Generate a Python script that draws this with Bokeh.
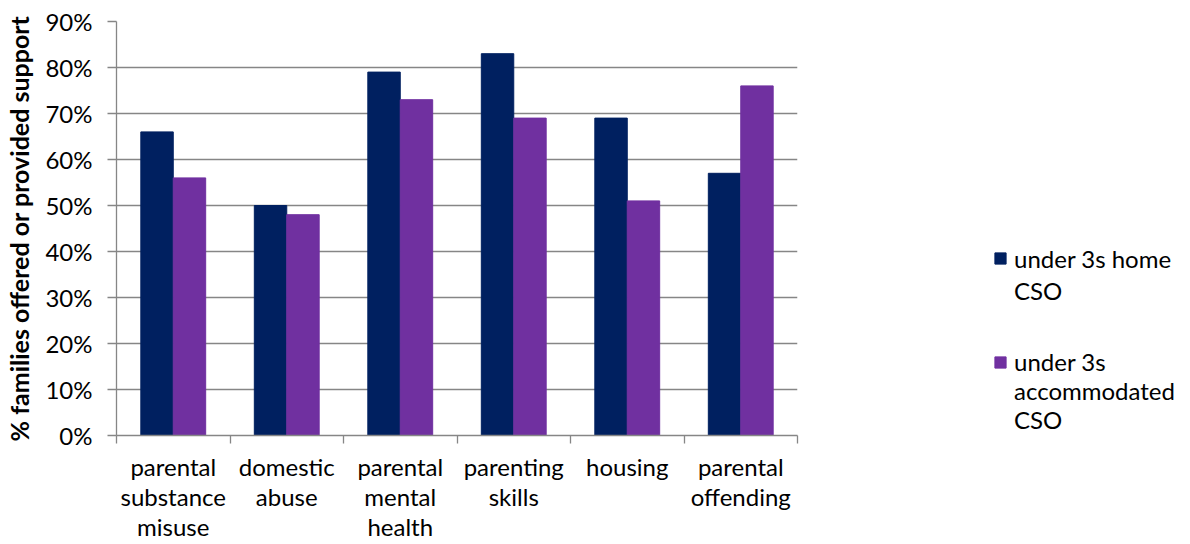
import numpy as np
from bokeh.plotting import figure
from bokeh.layouts import row
from bokeh.models import (Range1d, FixedTicker, LinearAxis, Legend, LegendItem,
                          PrintfTickFormatter, ColumnDataSource)
from bokeh.transform import dodge
from bokeh.embed import file_html
from bokeh.resources import INLINE

categories = ["parental\nsubstance\nmisuse", "domestic\nabuse", "parental\nmental\nhealth",
              "parenting\nskills", "housing", "parental\noffending"]
home_cso = [66, 50, 79, 83, 69, 57]
accommodated_cso = [56, 48, 73, 69, 51, 76]
series_names = [["under 3s home", "CSO"], ["under 3s", "accommodated", "CSO"]]
y_ticks = [0, 10, 20, 30, 40, 50, 60, 70, 80, 90]

FONT = "Lato"
GRID = "#868686"
C1 = "#002060"
C2 = "#7030A0"
COLORS = [C1, C2]

centers = [i + 0.5 for i in range(len(categories))]
src = ColumnDataSource(dict(x=centers, a=home_cso, b=accommodated_cso))

p = figure(width=800, height=544, output_backend="svg", toolbar_location=None,
           x_range=Range1d(0, len(categories)), y_range=Range1d(0, 90),
           x_axis_location=None, min_border_left=116, min_border_right=3,
           min_border_top=21, min_border_bottom=108)
p.outline_line_color = None
p.xgrid.visible = False
p.ygrid.ticker = FixedTicker(ticks=y_ticks)
p.ygrid.grid_line_color = GRID
p.ygrid.grid_line_width = 1.3

bw = 0.2857
r1 = p.vbar(x=dodge("x", -bw / 2, range=p.x_range), top="a", width=bw, source=src,
            fill_color=C1, line_color=C1)
r2 = p.vbar(x=dodge("x", bw / 2, range=p.x_range), top="b", width=bw, source=src,
            fill_color=C2, line_color=C2)

# y axis
ya = p.yaxis[0]
ya.ticker = FixedTicker(ticks=y_ticks)
ya.formatter = PrintfTickFormatter(format="%d%%")
ya.axis_line_color = GRID
ya.axis_line_width = 1.3
ya.major_tick_line_color = GRID
ya.major_tick_line_width = 1.3
ya.major_tick_out = 9
ya.major_tick_in = 0
ya.minor_tick_line_color = None
ya.major_label_text_font = FONT
ya.major_label_text_font_size = "24px"
ya.major_label_text_color = "#000000"
ya.major_label_standoff = 15
ya.axis_label = "% families offered or provided support"
ya.axis_label_text_font = FONT
ya.axis_label_text_font_size = "25px"
ya.axis_label_text_font_style = "bold"
ya.axis_label_text_color = "#000000"
ya.axis_label_standoff = 8

# x axis: boundary ticks
xa = LinearAxis(ticker=FixedTicker(ticks=list(range(len(categories) + 1))))
xa.axis_line_color = GRID
xa.axis_line_width = 1.3
xa.major_tick_line_color = GRID
xa.major_tick_line_width = 1.3
xa.major_tick_out = 8
xa.major_tick_in = 0
xa.minor_tick_line_color = None
xa.major_label_text_font_size = "0px"
xa.major_label_standoff = 0
p.add_layout(xa, "below")

# x axis: category labels
xl = LinearAxis(ticker=FixedTicker(ticks=centers))
xl.major_label_overrides = {c: lab for c, lab in zip(centers, categories)}
xl.axis_line_color = None
xl.major_tick_line_color = None
xl.minor_tick_line_color = None
xl.major_tick_out = 0
xl.major_tick_in = 0
xl.major_label_text_font = FONT
xl.major_label_text_font_size = "24px"
xl.major_label_text_color = "#000000"
xl.major_label_text_line_height = 1.05
xl.major_label_standoff = 8
p.add_layout(xl, "below")

# legend panel to the right of the plot
q = figure(width=390, height=544, output_backend="svg", toolbar_location=None,
           x_range=Range1d(0, 1), y_range=Range1d(0, 1),
           x_axis_location=None, y_axis_location=None,
           min_border_left=0, min_border_right=0, min_border_top=0, min_border_bottom=0)
q.outline_line_color = None
q.grid.visible = False

legend_pos = [(193, 129), (193, 1)]
row_heights = [32, 29]
for color, lines, loc, rh in zip(COLORS, series_names, legend_pos, row_heights):
    items = []
    for k, line in enumerate(lines):
        if k == 0:
            rr = q.vbar(x=np.array([np.nan]), top=np.array([np.nan]), width=0.1,
                        fill_color=color, line_color=color)
        else:
            rr = q.vbar(x=[], top=[], width=0.1, fill_alpha=0, line_alpha=0)
        items.append(LegendItem(label=line, renderers=[rr]))
    lg = Legend(items=items, location=loc, orientation="vertical")
    lg.label_text_font = FONT
    lg.label_text_font_size = "24px"
    lg.label_text_color = "#000000"
    lg.label_text_line_height = 1.0
    lg.label_height = rh
    lg.glyph_width = 14
    lg.glyph_height = 14
    lg.label_standoff = 7
    lg.spacing = 0
    lg.padding = 0
    lg.margin = 0
    lg.border_line_color = None
    lg.background_fill_alpha = 0
    q.add_layout(lg, "center")

layout = row(p, q)
open("out.html", "w").write(file_html(layout, INLINE))
